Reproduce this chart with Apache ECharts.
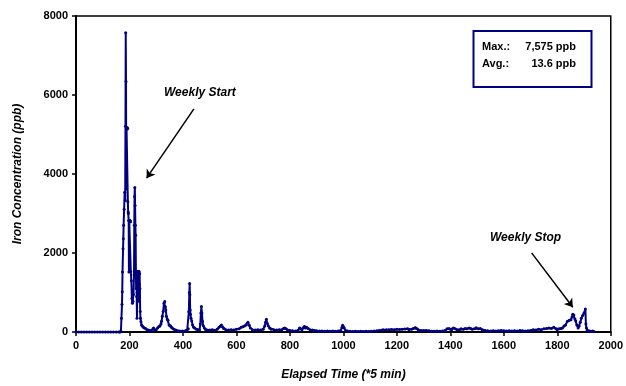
<!DOCTYPE html>
<html>
<head>
<meta charset="utf-8">
<script src="https://cdn.jsdelivr.net/npm/echarts@6/dist/echarts.min.js"></script>
<style>
html,body{margin:0;padding:0;background:#fff;}
#chart{width:626px;height:386px;}
</style>
</head>
<body>
<div id="chart"></div>
<script>
// Elapsed time index (*5 min)
var timeIdx = [
  0,10,20,30,40,50,60,70,80,90,100,110,120,130,140,150,160,165,168,170,
  172,173,174,176,177,178,180,182,184,185,186,187,188,189,190,191,192,193,194,195,
  196,197,198,199,200,201,202,203,204,205,207,209,211,213,215,217,218,219,220,221,
  222,223,224,225,226,227,228,229,230,231,232,233,234,235,236,237,238,239,240,241,
  243,245,248,252,256,260,265,270,275,280,285,290,295,300,305,310,314,318,320,323,
  326,329,332,334,336,338,341,344,348,351,354,357,360,366,373,380,386,392,398,404,
  410,416,420,422,424,425,426,427,428,430,433,436,440,444,450,456,462,465,467,469,
  471,473,476,480,485,490,500,510,520,528,535,540,544,548,552,560,570,580,590,600,
  610,618,624,630,637,643,648,652,660,670,680,690,700,706,709,712,715,719,724,730,
  740,750,760,770,776,780,784,790,800,810,820,830,836,840,845,850,854,858,862,868,
  875,884,891,900,910,920,930,940,950,960,970,980,990,995,997,1000,1003,1008,1015,1025,
  1035,1045,1055,1065,1075,1085,1095,1105,1115,1125,1135,1145,1150,1160,1170,1180,1190,1200,1210,1220,
  1230,1240,1246,1255,1262,1268,1271,1275,1280,1290,1300,1310,1320,1330,1340,1350,1360,1370,1380,1388,
  1395,1400,1405,1412,1418,1425,1433,1440,1448,1455,1462,1470,1476,1482,1490,1497,1505,1512,1520,1530,
  1540,1550,1560,1570,1580,1590,1600,1610,1620,1630,1640,1650,1660,1670,1680,1690,1700,1710,1720,1730,
  1740,1750,1760,1769,1778,1787,1795,1800,1808,1814,1819,1825,1831,1838,1845,1851,1855,1858,1862,1866,
  1869,1873,1878,1882,1886,1890,1895,1900,1905,1907,1909,1912,1918,1925,1932,1937
];
// Iron concentration (ppb)
var ironPpb = [
  0,0,0,0,0,0,0,0,0,0,0,0,0,0,0,0,0,0,20,350,
  700,1020,1520,2110,2360,2700,3110,3540,3330,5210,7575,6340,3620,5170,5150,5180,5140,5160,3300,3040,
  3000,2820,1520,2820,2800,2830,2810,2800,2790,1530,1300,850,730,780,950,1450,2700,3430,3660,3200,
  2700,2450,1530,1100,1530,900,350,1000,1530,1300,1530,1500,1530,780,1530,1200,1480,1100,520,350,
  260,180,150,120,100,90,60,50,40,30,50,100,40,60,100,140,150,200,270,400,
  520,730,770,640,560,400,330,300,180,160,150,120,100,70,50,30,25,20,25,20,
  30,50,80,520,1000,1230,940,560,450,350,280,180,120,100,70,60,50,200,480,645,
  480,270,160,100,60,50,50,60,40,70,120,150,180,130,90,60,50,60,50,70,
  80,120,130,150,180,250,170,100,60,50,60,50,70,150,250,320,220,160,100,70,
  60,50,55,60,90,100,90,60,40,30,25,40,100,80,60,110,140,100,120,90,
  60,50,40,30,25,25,20,25,20,25,20,25,40,120,170,130,100,40,25,20,
  15,20,15,20,15,20,15,20,25,30,40,50,60,55,60,65,60,70,65,70,
  75,80,60,70,90,110,100,80,60,40,35,40,30,20,20,25,20,25,40,80,
  90,70,60,100,80,60,60,80,70,90,80,100,90,70,80,110,80,90,60,40,
  30,25,30,25,30,35,30,25,30,25,30,25,35,30,25,30,40,60,50,70,
  60,80,90,100,90,120,80,60,80,90,100,150,180,270,300,310,380,450,430,330,
  280,180,100,150,250,350,420,480,585,200,100,40,30,20,25,10
];
var xTicks = { min: 0, max: 2000, interval: 200 };
var yTicks = { min: 0, max: 8000, interval: 2000 };

var seriesData = timeIdx.map(function (t, i) { return [t, ironPpb[i]]; });

var FONT = '"Liberation Sans", Arial, sans-serif';
var NAVY = '#000080';
var plain = function (v) { return String(v); };

var chart = echarts.init(document.getElementById('chart'), null, { renderer: 'canvas' });
chart.setOption({
  animation: false,
  backgroundColor: '#ffffff',
  grid: { left: 76, right: 13, top: 16, bottom: 52, show: true, borderColor: '#000', borderWidth: 1.5, backgroundColor: 'transparent' },
  xAxis: {
    type: 'value', min: xTicks.min, max: xTicks.max, interval: xTicks.interval,
    name: 'Elapsed Time (*5 min)', nameLocation: 'middle', nameGap: 37,
    nameTextStyle: { fontFamily: FONT, fontSize: 12, fontWeight: 'bold', fontStyle: 'italic', color: '#000' },
    axisLine: { lineStyle: { color: '#000', width: 2 } },
    axisTick: { show: true, inside: false, length: 4, lineStyle: { color: '#000', width: 1.5 } },
    axisLabel: { fontFamily: FONT, fontSize: 11, fontWeight: 'bold', color: '#000', margin: 8, formatter: plain },
    splitLine: { show: false }
  },
  yAxis: {
    type: 'value', min: yTicks.min, max: yTicks.max, interval: yTicks.interval,
    name: 'Iron Concentration (ppb)', nameLocation: 'middle', nameGap: 52,
    nameTextStyle: { fontFamily: FONT, fontSize: 12, fontWeight: 'bold', fontStyle: 'italic', color: '#000' },
    axisLine: { lineStyle: { color: '#000', width: 2 } },
    axisTick: { show: true, inside: false, length: 4, lineStyle: { color: '#000', width: 1.5 } },
    axisLabel: { fontFamily: FONT, fontSize: 11, fontWeight: 'bold', color: '#000', margin: 8, formatter: plain },
    splitLine: { show: false }
  },
  series: [{
    type: 'line',
    data: seriesData,
    showSymbol: true,
    symbol: 'circle',
    symbolSize: 3,
    itemStyle: { color: NAVY },
    lineStyle: { color: NAVY, width: 2 },
    markLine: {
      silent: true,
      symbol: ['none', 'arrow'],
      symbolSize: 8,
      label: { show: false },
      lineStyle: { color: '#000', width: 1.5, type: 'solid' },
      data: [
        [{ coord: [441, 5647] }, { coord: [264, 3895] }],
        [{ coord: [1704, 2003] }, { coord: [1858, 628] }]
      ]
    }
  }],
  graphic: [
    { type: 'text', left: 164, top: 87, style: { text: 'Weekly Start', font: 'italic bold 12px ' + FONT, fill: '#000' } },
    { type: 'text', left: 490, top: 232, style: { text: 'Weekly Stop', font: 'italic bold 12px ' + FONT, fill: '#000' } },
    { type: 'rect', shape: { x: 473.5, y: 31, width: 118, height: 56 }, style: { fill: '#fff', stroke: NAVY, lineWidth: 2 } },
    { type: 'text', x: 482, y: 47, style: { text: 'Max.:', font: 'bold 11px ' + FONT, fill: '#000', textVerticalAlign: 'middle' } },
    { type: 'text', x: 576, y: 47, style: { text: '7,575 ppb', font: 'bold 11px ' + FONT, fill: '#000', textAlign: 'right', textVerticalAlign: 'middle' } },
    { type: 'text', x: 482, y: 64, style: { text: 'Avg.:', font: 'bold 11px ' + FONT, fill: '#000', textVerticalAlign: 'middle' } },
    { type: 'text', x: 576, y: 64, style: { text: '13.6 ppb', font: 'bold 11px ' + FONT, fill: '#000', textAlign: 'right', textVerticalAlign: 'middle' } }
  ]
});
</script>
</body>
</html>
